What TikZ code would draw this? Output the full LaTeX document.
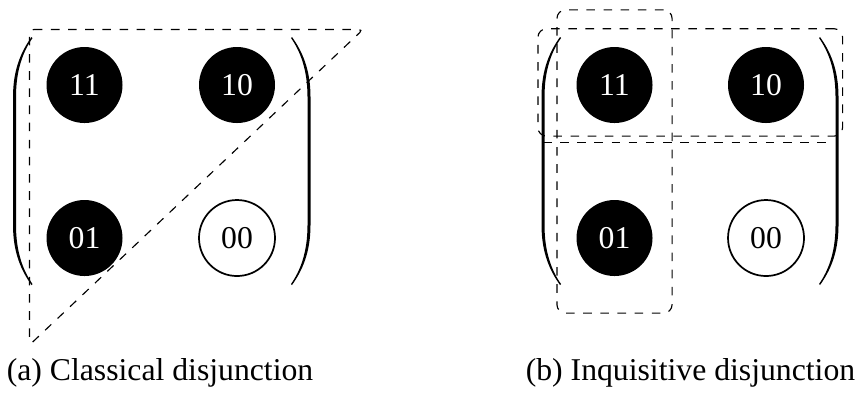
\documentclass[tikz,border=0pt]{standalone}
\usepackage{fontspec}
\setmainfont{Liberation Serif}
\usetikzlibrary{positioning}
\usetikzlibrary{fit}

\tikzset{
  world/.style={circle, inner sep=0pt, minimum size=26.6pt},
  trueworld/.style={world, fill=black, text=white},
  falseworld/.style={world, draw=black, line width=0.6pt, fill=white},
  alt/.style={draw, dashed, rounded corners=3pt},
  bigparen/.pic={
    \fill (0,-124) .. controls (-10,-110) and (-18.5,-92) .. (-18.5,-64) -- (-18.5,64)
      .. controls (-18.5,92) and (-10,110) .. (0,124)
      -- (1,123) .. controls (-8,110) and (-15.5,92) .. (-15.5,64) -- (-15.5,-64)
      .. controls (-15.5,-92) and (-8,-110) .. (1,-123) -- cycle;
  }
}

\begin{document}
\begin{tikzpicture}[x=0.35pt, y=-0.35pt, font=\fontsize{11.1}{13.3}\selectfont]
			\useasboundingbox (0,0) rectangle (857,395);
			% classical
			\node at (84.5,85) [trueworld] (a11) {11};
			\node at (237,85) [trueworld] (a10) {10};
			\node at (84.5,238) [trueworld] (a01) {01};
			\node at (237,238) [falseworld] (a00) {00};
			\pic at (31.5,161) {bigparen}; \pic[xscale=-1] at (292,161) {bigparen};
			\coordinate (tA) at (29.5,29.5); \coordinate (tB) at (363,29.5); \coordinate (tC) at (29.5,345);
			\draw [dashed, rounded corners=1.5pt] (tA) -- (tB) -- (tC) -- cycle;
			\node at (160,380) [anchor=base] (capa) {(a) Classical disjunction};
			% inquisitive
			\node at (614.5,85) [trueworld] (b11) {11};
			\node at (766,85) [trueworld] (b10) {10};
			\node at (614.5,238) [trueworld] (b01) {01};
			\node at (766,238) [falseworld] (b00) {00};
			\pic at (560,161) {bigparen}; \pic[xscale=-1] at (820,161) {bigparen};
			\node (colb) [fit=(b11) (b01), alt, inner xsep=6.65pt, inner ysep=12.8pt] {};
			\node (rowb) [fit=(b11) (b10), alt, inner xsep=13.3pt, inner ysep=5.3pt, yshift=0.9pt] {};
			\coordinate (hl) at (543,142.5); \coordinate (hr) at (834,142.5);
			\draw [dashed] (hl) -- (hr);
			\node at (690.5,380) [anchor=base] (capb) {(b) Inquisitive disjunction};
\end{tikzpicture}
\end{document}
